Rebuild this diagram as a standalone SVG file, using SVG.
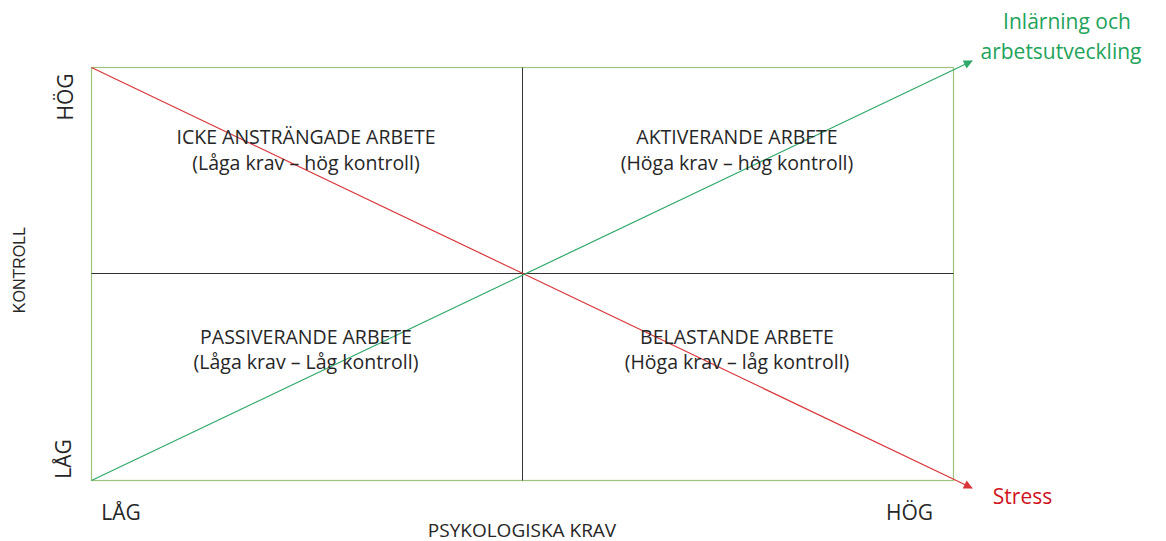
<svg xmlns="http://www.w3.org/2000/svg" width="1166" height="541" viewBox="0 0 1166 541">
<style>
.t{font-family:"Open Sans","Noto Sans",sans-serif;font-size:19.5px;fill:#262626;text-anchor:middle}
.c{font-family:"Open Sans","Noto Sans",sans-serif;font-size:21px;fill:#262626;text-anchor:middle}
.a{font-family:"Liberation Sans",Arial,sans-serif;font-size:16px;fill:#262626;text-anchor:middle}
</style>
<defs>
<marker id="ar" viewBox="0 0 10 10" refX="9" refY="5" markerWidth="11" markerHeight="9" markerUnits="userSpaceOnUse" orient="auto"><path d="M0,0L10,5L0,10z" fill="#d9363a"/></marker>
<marker id="ag" viewBox="0 0 10 10" refX="9" refY="5" markerWidth="11" markerHeight="9" markerUnits="userSpaceOnUse" orient="auto"><path d="M0,0L10,5L0,10z" fill="#2fa869"/></marker>
</defs>
<rect width="1166" height="541" fill="#fff"/>
<g id="frame">
<rect x="91.5" y="67.5" width="862" height="413" fill="none" stroke="#9cc47c" stroke-width="1.2"/>
<line x1="522.5" y1="67.5" x2="522.5" y2="480.5" stroke="#333" stroke-width="1"/>
<line x1="91.5" y1="273.5" x2="953.5" y2="273.5" stroke="#333" stroke-width="1"/>
</g>
<g id="connectors">
<line x1="91.5" y1="67.5" x2="972" y2="488" stroke="#d9363a" stroke-width="1.2" marker-end="url(#ar)"/>
<line x1="91.5" y1="480.5" x2="972" y2="61" stroke="#2fa869" stroke-width="1.2" marker-end="url(#ag)"/>
</g>
<g id="q1"><text class="t" x="306" y="144">ICKE ANSTRÄNGADE ARBETE</text><text class="t" x="306" y="170">(Låga krav – hög kontroll)</text></g>
<g id="q2"><text class="t" x="737" y="144">AKTIVERANDE ARBETE</text><text class="t" x="737" y="170">(Höga krav – hög kontroll)</text></g>
<g id="q3"><text class="t" x="306" y="344">PASSIVERANDE ARBETE</text><text class="t" x="306" y="369">(Låga krav – Låg kontroll)</text></g>
<g id="q4"><text class="t" x="737" y="344">BELASTANDE ARBETE</text><text class="t" x="737" y="369">(Höga krav – låg kontroll)</text></g>
<g id="labels">
<text class="c" transform="translate(73,97) rotate(-90)">HÖG</text>
<text class="c" transform="translate(71,459) rotate(-90)">LÅG</text>
<text class="a" transform="translate(25,270) rotate(-90)">KONTROLL</text>
<text class="c" x="121" y="520">LÅG</text>
<text class="c" x="909.5" y="520">HÖG</text>
<text class="t" x="522" y="537" style="font-size:19px">PSYKOLOGISKA KRAV</text>
<text class="c" x="1067" y="29" style="fill:#22a35a">Inlärning och</text>
<text class="c" x="1061" y="59" style="fill:#22a35a">arbetsutveckling</text>
<text class="c" x="1022.5" y="504" style="fill:#d0121b">Stress</text>
</g>
</svg>
